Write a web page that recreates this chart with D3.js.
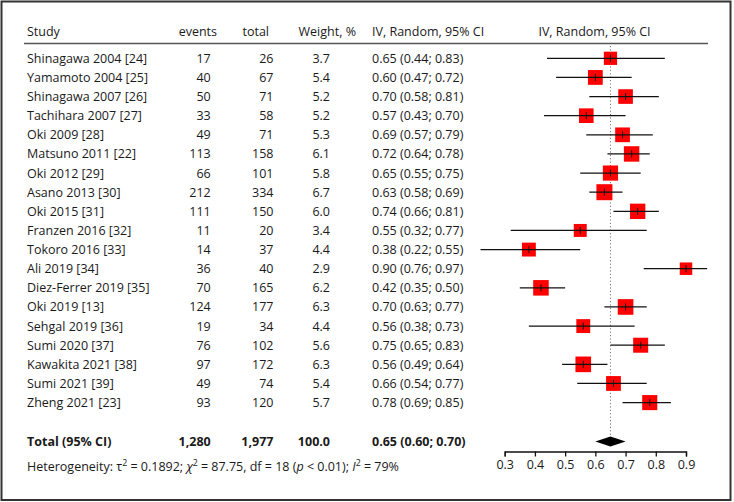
<!DOCTYPE html>
<html><head><meta charset="utf-8">
<script src="https://cdn.jsdelivr.net/npm/d3@7"></script>
<style>
html,body{margin:0;padding:0;background:#fff;}
text{font-family:"Open Sans","Noto Sans",sans-serif;fill:#1a1a1a;}
</style></head>
<body><svg id="c" width="734" height="502"></svg>
<script>
const studies = ["Shinagawa 2004 [24]","Yamamoto 2004 [25]","Shinagawa 2007 [26]","Tachihara 2007 [27]","Oki 2009 [28]","Matsuno 2011 [22]","Oki 2012 [29]","Asano 2013 [30]","Oki 2015 [31]","Franzen 2016 [32]","Tokoro 2016 [33]","Ali 2019 [34]","Diez-Ferrer 2019 [35]","Oki 2019 [13]","Sehgal 2019 [36]","Sumi 2020 [37]","Kawakita 2021 [38]","Sumi 2021 [39]","Zheng 2021 [23]"];
const events = [17,40,50,33,49,113,66,212,111,11,14,36,70,124,19,76,97,49,93];
const totals = [26,67,71,58,71,158,101,334,150,20,37,40,165,177,34,102,172,74,120];
const weights = [3.7,5.4,5.2,5.2,5.3,6.1,5.8,6.7,6.0,3.4,4.4,2.9,6.2,6.3,4.4,5.6,6.3,5.4,5.7];
const est = [0.65,0.60,0.70,0.57,0.69,0.72,0.65,0.63,0.74,0.55,0.38,0.90,0.42,0.70,0.56,0.75,0.56,0.66,0.78];
const lower = [0.44,0.47,0.58,0.43,0.57,0.64,0.55,0.58,0.66,0.32,0.22,0.76,0.35,0.63,0.38,0.65,0.49,0.54,0.69];
const upper = [0.83,0.72,0.81,0.70,0.79,0.78,0.75,0.69,0.81,0.77,0.55,0.97,0.50,0.77,0.73,0.83,0.64,0.77,0.85];
const pooled = {est:0.65, lo:0.60, hi:0.70};
const totalRow = ["Total (95% CI)","1,280","1,977","100.0","0.65 (0.60; 0.70)"];
const headers = ["Study","events","total","Weight, %","IV, Random, 95% CI","IV, Random, 95% CI"];
const tickValues = [0.3,0.4,0.5,0.6,0.7,0.8,0.9];

const svg = d3.select("#c");
const fmt = d3.format(".2f");
const fs = 12.5;

// frame
svg.append("rect").attr("x",1.5).attr("y",1.5).attr("width",729).attr("height",498.5)
  .attr("fill","none").attr("stroke","#333").attr("stroke-width",2);

const x = d3.scaleLinear().domain([0.3,0.9]).range([504.7,686]);
const y = d3.scaleLinear().domain([0,18]).range([58.3,402.6]);
const box = d3.scaleLinear().domain([2.9,6.7]).range([12.5,16]);

// header
const hy = 36;
const hdr = svg.append("g").attr("font-size",fs);
hdr.append("text").attr("x",27).attr("y",hy).text(headers[0]);
hdr.append("text").attr("x",217).attr("y",hy).attr("text-anchor","end").text(headers[1]);
hdr.append("text").attr("x",269).attr("y",hy).attr("text-anchor","end").text(headers[2]);
hdr.append("text").attr("x",356).attr("y",hy).attr("text-anchor","end").text(headers[3]);
hdr.append("text").attr("x",372).attr("y",hy).text(headers[4]);
hdr.append("text").attr("x",594.5).attr("y",hy).attr("text-anchor","middle").text(headers[5]);
svg.append("line").attr("x1",24).attr("x2",708).attr("y1",43.5).attr("y2",43.5)
  .attr("stroke","#555").attr("stroke-width",1.5);

// dotted pooled line
svg.append("line").attr("x1",x(pooled.est)).attr("x2",x(pooled.est)).attr("y1",46).attr("y2",436)
  .attr("stroke","#777").attr("stroke-width",1).attr("stroke-dasharray","1.2,2.2");

// rows
const rows = svg.append("g").attr("font-size",fs);
studies.forEach((s,i)=>{
  const yy = y(i)+4.5;
  rows.append("text").attr("x",27).attr("y",yy).text(s);
  rows.append("text").attr("x",210.7).attr("y",yy).attr("text-anchor","end").text(events[i]);
  rows.append("text").attr("x",273.5).attr("y",yy).attr("text-anchor","end").text(totals[i]);
  rows.append("text").attr("x",330).attr("y",yy).attr("text-anchor","end").text(weights[i].toFixed(1));
  rows.append("text").attr("x",372).attr("y",yy).text(`${fmt(est[i])} (${fmt(lower[i])}; ${fmt(upper[i])})`);
});

// forest marks
const marks = svg.append("g");
studies.forEach((s,i)=>{
  const cy = y(i), b = box(weights[i]);
  marks.append("rect").attr("x",x(est[i])-b/2).attr("y",cy-b/2).attr("width",b).attr("height",b)
    .attr("fill","#ff0000");
  marks.append("line").attr("x1",x(lower[i])).attr("x2",x(upper[i])).attr("y1",cy).attr("y2",cy)
    .attr("stroke","#111").attr("stroke-width",1.3);
  marks.append("line").attr("x1",x(est[i])).attr("x2",x(est[i])).attr("y1",cy-3.5).attr("y2",cy+3.5)
    .attr("stroke","#111").attr("stroke-width",1);
});

// total row
const ty = 441.5;
const tot = svg.append("g").attr("font-size",fs).attr("font-weight","bold");
tot.append("text").attr("x",27).attr("y",ty+4.5).text(totalRow[0]);
tot.append("text").attr("x",210.7).attr("y",ty+4.5).attr("text-anchor","end").text(totalRow[1]);
tot.append("text").attr("x",273.5).attr("y",ty+4.5).attr("text-anchor","end").text(totalRow[2]);
tot.append("text").attr("x",330).attr("y",ty+4.5).attr("text-anchor","end").text(totalRow[3]);
tot.append("text").attr("x",372).attr("y",ty+4.5).text(totalRow[4]);

svg.append("path").attr("fill","#000")
  .attr("d",`M${x(pooled.lo)},${ty} L${x(pooled.est)},${ty-5} L${x(pooled.hi)},${ty} L${x(pooled.est)},${ty+5} Z`);

// heterogeneity
const het = svg.append("text").attr("x",27).attr("y",470.5).attr("font-size",fs);
het.append("tspan").text("Heterogeneity: τ");
het.append("tspan").attr("font-size",fs*0.7).attr("dy",-5).text("2");
het.append("tspan").attr("dy",5).text(" = 0.1892; ");
het.append("tspan").attr("font-style","italic").text("χ");
het.append("tspan").attr("font-size",fs*0.7).attr("dy",-5).text("2");
het.append("tspan").attr("dy",5).text(" = 87.75, df = 18 (");
het.append("tspan").attr("font-style","italic").text("p");
het.append("tspan").text(" < 0.01); ");
het.append("tspan").attr("font-style","italic").text("I");
het.append("tspan").attr("font-size",fs*0.7).attr("dy",-5).text("2");
het.append("tspan").attr("dy",5).text(" = 79%");

// axis
const axis = d3.axisBottom(x).tickValues(tickValues).tickFormat(d3.format(".1f")).tickSize(5).tickPadding(4);
const ag = svg.append("g").attr("transform","translate(0,451.5)").call(axis);
ag.select(".domain").attr("stroke","#111").attr("stroke-width",1.3);
ag.selectAll(".tick line").attr("stroke","#111").attr("stroke-width",1.3);
ag.selectAll(".tick text").attr("font-size",fs).attr("fill","#1a1a1a").attr("font-family","'Open Sans','Noto Sans',sans-serif");
</script></body></html>
